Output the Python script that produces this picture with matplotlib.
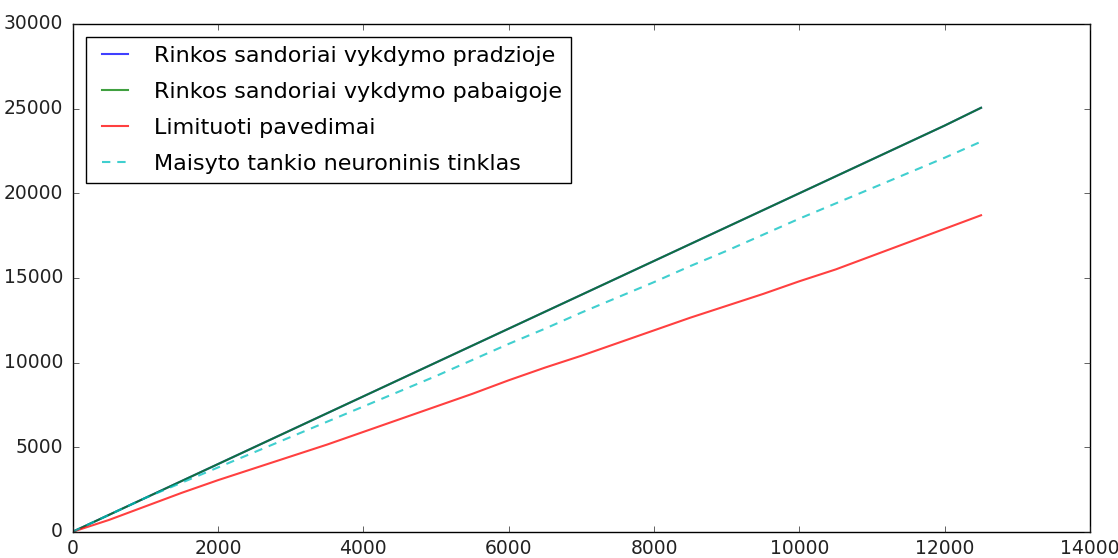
import numpy as np
import matplotlib
matplotlib.use('Agg')
import matplotlib.pyplot as plt

plt.style.use('classic')

x = [0, 500, 1000, 1500, 2000, 2500, 3000, 3500, 4000, 4500, 5000, 5500, 6000,
     6500, 7000, 7500, 8000, 8500, 9000, 9500, 10000, 10500, 11000, 11500, 12000, 12500]

market_start = [0, 1000, 2000, 3000, 4000, 5000, 6000, 7000, 8000, 9000, 10000, 11000, 12000,
                13000, 14000, 15000, 16000, 17000, 18000, 19000, 20000, 21000, 22000, 23000, 24000, 25050]
market_end = [0, 1000, 2000, 3000, 4000, 5000, 6000, 7000, 8000, 9000, 10000, 11000, 12000,
              13000, 14000, 15000, 16000, 17000, 18000, 19000, 20000, 21000, 22000, 23000, 24000, 25050]
limit_orders = [0, 700, 1500, 2300, 3050, 3750, 4450, 5150, 5900, 6650, 7400, 8150, 8950,
                9700, 10400, 11150, 11900, 12650, 13350, 14050, 14800, 15500, 16300, 17100, 17900, 18700]
neural_net = [0, 1000, 2000, 2900, 3800, 4700, 5600, 6500, 7400, 8300, 9200, 10150, 11100,
              12000, 12950, 13850, 14750, 15700, 16600, 17550, 18500, 19400, 20300, 21200, 22100, 23050]

fig = plt.figure(figsize=(11.18, 5.58), dpi=100, facecolor='white')
ax = fig.add_subplot(111)
fig.subplots_adjust(left=0.065, right=0.975, bottom=0.047, top=0.957)

ax.plot(x, market_start, 'b', lw=1.5, alpha=0.75, label='Rinkos sandoriai vykdymo pradzioje')
ax.plot(x, market_end, 'g', lw=1.5, alpha=0.75, label='Rinkos sandoriai vykdymo pabaigoje')
ax.plot(x, limit_orders, 'r', lw=1.5, alpha=0.75, label='Limituoti pavedimai')
ax.plot(x, neural_net, 'c--', lw=1.5, alpha=0.75, dashes=(6, 5), label='Maisyto tankio neuroninis tinklas')

ax.set_xlim(0, 14000)
ax.set_ylim(0, 30000)
ax.tick_params(labelsize=13.5, pad=7, colors='#222222', labelcolor='#222222')
ax.tick_params(axis='x', pad=5)
ax.legend(loc='upper left', fontsize=16, labelspacing=0.72, handlelength=1.8,
          handletextpad=0.85, borderaxespad=0.6)

fig.savefig('out.png', dpi=100, facecolor='white')
